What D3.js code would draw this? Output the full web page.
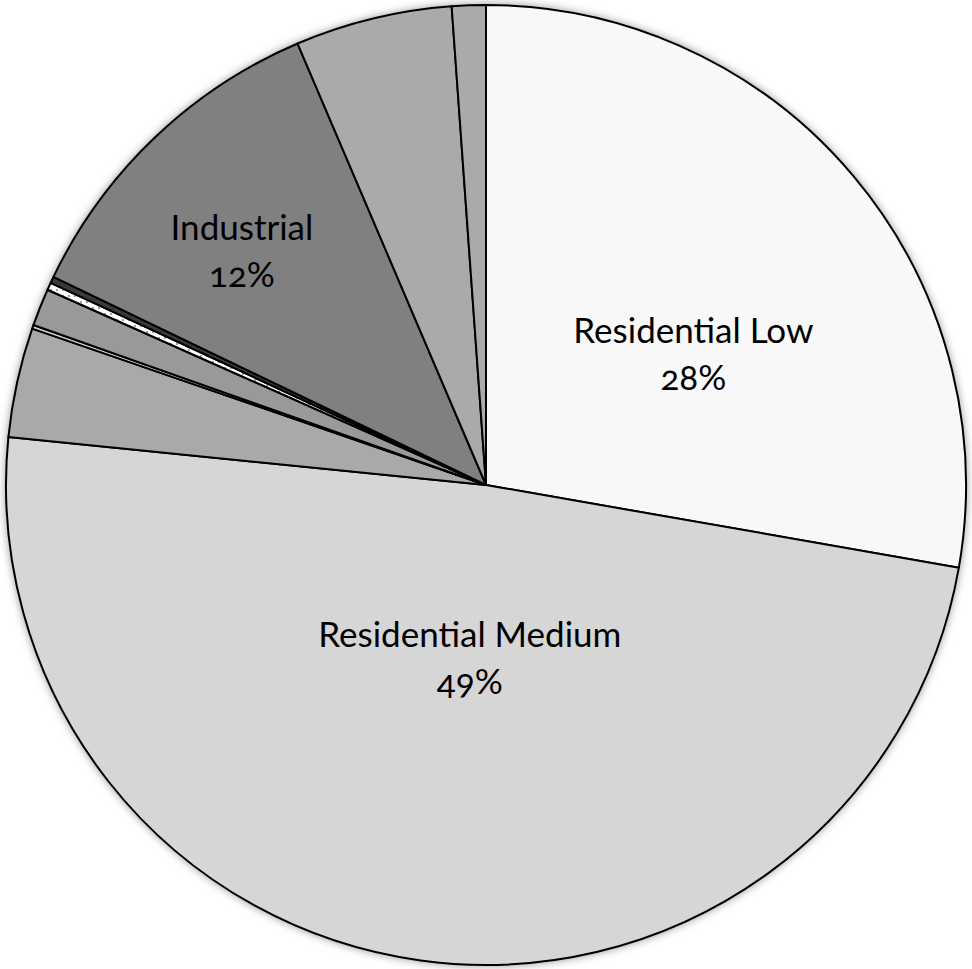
<!DOCTYPE html>
<html>
<head>
<meta charset="utf-8">
<script src="https://cdn.jsdelivr.net/npm/d3@7"></script>
<style>
  html, body { margin: 0; padding: 0; background: #ffffff; }
  svg { display: block; }
  text { font-family: Lato, "Open Sans", sans-serif; font-variant-numeric: oldstyle-nums; }
</style>
</head>
<body>
<svg id="chart" width="972" height="969"></svg>
<script>
// ---- data ----
const categories = ["Residential Low", "Residential Medium", "Other A", "Other B", "Other C", "Other D", "Other E", "Industrial", "Other F", "Other G"];
const values = [27.75, 48.83, 3.69, 0.125, 1.26, 0.25, 0.22, 11.44, 5.28, 1.14];
const fills = ["#f8f8f8", "#d6d6d6", "#a9a9a9", "#d0d0d0", "#999999", "url(#dots)", "#3a3a3a", "#808080", "#aaaaaa", "#aaaaaa"];
const labelNames = ["Residential Low", "Residential Medium", "Industrial"];
const labelTexts = ["28%", "49%", "12%"];
// label placement (angle clockwise from 12 o'clock in degrees, distance from centre)
const labelPlacement = [
  { angle: 60.2, r: 239 },
  { angle: 185.0, r: 186 },
  { angle: 312.3, r: 330 }
];

const width = 972, height = 969;
const cx = 486, cy = 485, radius = 480;

const svg = d3.select("#chart");
const defs = svg.append("defs");

const pat = defs.append("pattern")
  .attr("id", "dots").attr("patternUnits", "userSpaceOnUse")
  .attr("width", 6).attr("height", 6);
pat.append("rect").attr("width", 6).attr("height", 6).attr("fill", "#ffffff");
pat.append("circle").attr("cx", 3).attr("cy", 3).attr("r", 1.1).attr("fill", "#8a8a8a");

const blur = defs.append("filter").attr("id", "glow")
  .attr("x", "-10%").attr("y", "-10%").attr("width", "120%").attr("height", "120%");
blur.append("feGaussianBlur").attr("stdDeviation", 4);

const g = svg.append("g").attr("transform", `translate(${cx},${cy})`);

// soft shadow behind pie
g.append("circle").attr("r", radius + 1).attr("fill", "#9a9a9a").attr("filter", "url(#glow)");

const pie = d3.pie().sort(null).value(d => d.value);
const data = categories.map((c, i) => ({ name: c, value: values[i], fill: fills[i] }));
const arcs = pie(data);
const arc = d3.arc().innerRadius(0).outerRadius(radius);

g.selectAll("path.slice")
  .data(arcs)
  .join("path")
  .attr("class", "slice")
  .attr("d", arc)
  .attr("fill", d => d.data.fill)
  .attr("stroke", "#000")
  .attr("stroke-width", 2)
  .attr("stroke-linejoin", "round");

// labels
labelNames.forEach((name, i) => {
  const p = labelPlacement[i];
  const a = p.angle * Math.PI / 180;
  const x = Math.sin(a) * p.r, y = -Math.cos(a) * p.r;
  const t = g.append("text")
    .attr("text-anchor", "middle")
    .attr("font-size", 35)
    .attr("fill", "#000");
  t.append("tspan").attr("x", x).attr("y", y - 23).text(name);
  t.append("tspan").attr("x", x).attr("y", y + 24).text(labelTexts[i]);
});
</script>
</body>
</html>
